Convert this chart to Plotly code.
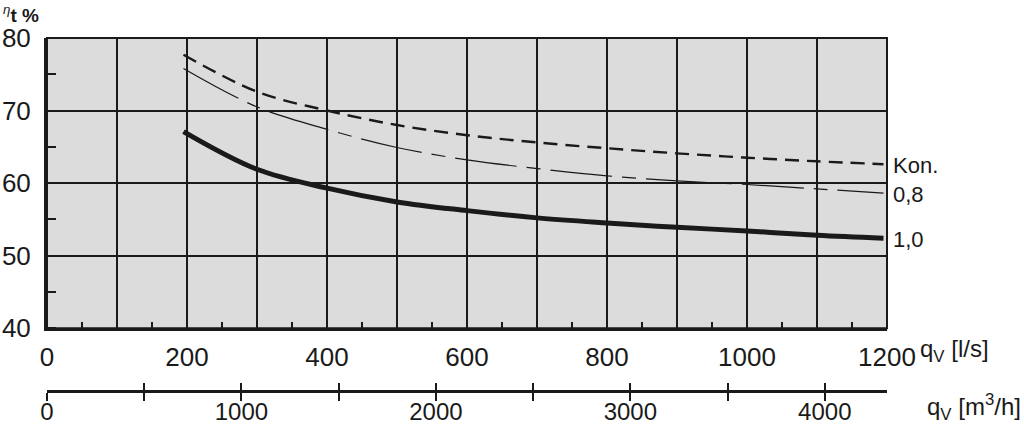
import plotly.graph_objects as go

# Data
q_ls = [195, 300, 400, 500, 600, 700, 800, 900, 1000, 1100, 1195]
eta_kon = [77.7, 72.6, 70.0, 68.0, 66.6, 65.6, 64.8, 64.1, 63.5, 63.0, 62.6]
eta_08 = [75.8, 70.5, 67.4, 64.9, 63.2, 62.0, 61.0, 60.3, 59.8, 59.2, 58.6]
eta_10 = [67.1, 61.9, 59.3, 57.4, 56.2, 55.2, 54.5, 53.9, 53.4, 52.8, 52.4]
curve_labels = ["Kon.", "0,8", "1,0"]

x_ticks = list(range(0, 1300, 100))
x_ticktext = [str(v) if v % 200 == 0 else "" for v in x_ticks]
y_ticks = [40, 50, 60, 70, 80]
m3h_ticks = list(range(0, 4500, 500))
m3h_ticktext = [str(v) if v % 1000 == 0 else "" for v in m3h_ticks]
LS_TO_M3H = 3.6
X_MAX = 1200

FONT = "Liberation Sans, Arial, sans-serif"
INK = "#1a1a1a"
TICK_SIZE = 26

fig = go.Figure()
fig.add_trace(go.Scatter(x=q_ls, y=eta_kon, mode="lines", line=dict(color=INK, width=2.4, dash="14px,8px", shape="spline"), hoverinfo="skip"))
fig.add_trace(go.Scatter(x=q_ls, y=eta_08, mode="lines", line=dict(color=INK, width=1.2, dash="62px,10px,14px,10px", shape="spline"), hoverinfo="skip"))
fig.add_trace(go.Scatter(x=q_ls, y=eta_10, mode="lines", line=dict(color=INK, width=5, shape="spline"), hoverinfo="skip"))
# secondary axis carriers (no visible marks)
fig.add_trace(go.Scatter(x=[], y=[], xaxis="x2", yaxis="y", showlegend=False))
fig.add_trace(go.Scatter(x=[], y=[], xaxis="x3", yaxis="y", showlegend=False))

for lab, ys in zip(curve_labels, [eta_kon, eta_08, eta_10]):
    fig.add_annotation(x=X_MAX, y=ys[-1], xref="x", yref="y", text=lab, showarrow=False,
                       xanchor="left", yanchor="middle", xshift=4, yshift=-1,
                       font=dict(family=FONT, size=22, color=INK))

fig.add_annotation(x=1.037, y=0.115, xref="paper", yref="paper", text="q<sub>V</sub> [l/s]",
                   showarrow=False, xanchor="left", yanchor="middle", font=dict(family=FONT, size=24, color=INK))
fig.add_annotation(x=1.045, y=-0.045, xref="paper", yref="paper", text="q<sub>V</sub> [m<sup>3</sup>/h]",
                   showarrow=False, xanchor="left", yanchor="middle", font=dict(family=FONT, size=24, color=INK))
fig.add_annotation(x=-0.054, y=1.105, xref="paper", yref="paper",
                   text="<sup><i>η</i></sup><b>t %</b>",
                   showarrow=False, xanchor="left", yanchor="top", borderpad=0,
                   font=dict(family=FONT, size=19, color=INK))

# plot frame (top/right border)
fig.add_shape(type="rect", xref="x domain", yref="y domain", x0=0, x1=1, y0=0, y1=1,
              line=dict(color=INK, width=2), layer="above")

fig.update_layout(
    width=1024, height=427,
    margin=dict(l=47, r=137, t=38, b=36, autoexpand=False),
    paper_bgcolor="white",
    plot_bgcolor="#dcdcdc",
    showlegend=False,
    font=dict(family=FONT, color=INK),
    xaxis=dict(range=[0, X_MAX], tickvals=x_ticks, ticktext=x_ticktext, ticks="",
               showgrid=True, gridcolor=INK, gridwidth=1.5, zeroline=False, automargin=False,
               showline=True, linecolor=INK, linewidth=3, anchor="y",
               tickfont=dict(size=TICK_SIZE, family=FONT, color=INK), ticklabelstandoff=4,
               minor=dict(dtick=50, tick0=0, ticks="inside", ticklen=6, tickcolor=INK, tickwidth=1.5, showgrid=False)),
    yaxis=dict(range=[40, 80], tickvals=y_ticks, ticks="", domain=[0.1781, 1], automargin=False,
               showgrid=True, gridcolor=INK, gridwidth=1.5, zeroline=False,
               showline=True, linecolor=INK, linewidth=3,
               tickfont=dict(size=TICK_SIZE, family=FONT, color=INK), ticklabelstandoff=8,
               minor=dict(dtick=5, tick0=0, ticks="inside", ticklen=9, tickcolor=INK, tickwidth=1.5, showgrid=False)),
    xaxis2=dict(range=[0, X_MAX * LS_TO_M3H], overlaying="x", anchor="free", position=0, automargin=False,
                tickvals=m3h_ticks, ticktext=m3h_ticktext, ticks="outside", ticklen=8, tickwidth=2,
                tickcolor=INK, showline=True, linecolor=INK, linewidth=3, showgrid=False, zeroline=False,
                tickfont=dict(size=24, family=FONT, color=INK), ticklabelstandoff=-10),
    xaxis3=dict(range=[0, X_MAX * LS_TO_M3H], overlaying="x", anchor="free", position=0, automargin=False,
                tickvals=m3h_ticks, ticks="inside", ticklen=8, tickwidth=2, tickcolor=INK,
                showticklabels=False, showline=False, showgrid=False, zeroline=False),
)

fig.write_html("out.html")
